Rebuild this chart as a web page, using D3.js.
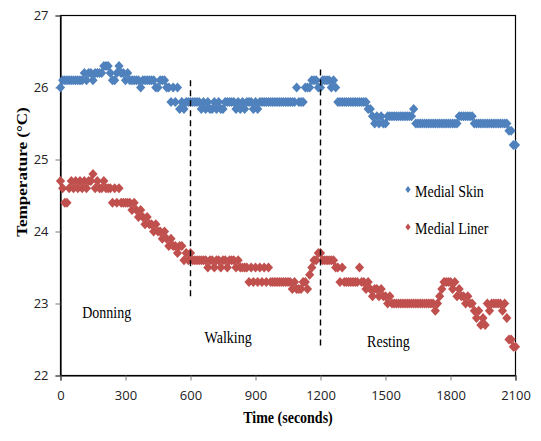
<!DOCTYPE html>
<html>
<head>
<meta charset="utf-8">
<script src="https://cdn.jsdelivr.net/npm/d3@7"></script>
<style>
  html, body { margin: 0; padding: 0; background: #fff; }
  svg { display: block; }
</style>
</head>
<body>
<svg id="chart" width="541" height="441"></svg>
<script>
// Sampling interval of the logger (seconds)
const sampleStep = 10;
const endTime = 2100;

// Medial skin temperature (°C), one reading every 10 s from 0 to 2100 s
const medialSkin = [
  26.0, 26.1, 26.1, 26.1, 26.1, 26.1, 26.1, 26.1, 26.1, 26.1, 26.1,
  26.2, 26.1, 26.2, 26.2, 26.1, 26.2, 26.2, 26.2, 26.2, 26.3,
  26.3, 26.3, 26.2, 26.1, 26.1, 26.2, 26.3, 26.2, 26.2, 26.1,
  26.2, 26.1, 26.1, 26.1, 26.1, 26.1, 26.0, 26.1, 26.1, 26.1,
  26.1, 26.1, 26.1, 26.0, 26.0, 26.1, 26.1, 26.1, 26.0, 26.0,
  25.8, 26.0, 25.8, 26.0, 25.7, 25.8, 25.7, 25.8, 25.8, 25.8,
  25.8, 25.8, 25.8, 25.8, 25.7, 25.8, 25.7, 25.8, 25.7, 25.7,
  25.8, 25.7, 25.8, 25.7, 25.7, 25.8, 25.8, 25.8, 25.8, 25.8,
  25.7, 25.8, 25.7, 25.8, 25.7, 25.8, 25.8, 25.8, 25.7, 25.8,
  25.7, 25.8, 25.8, 25.8, 25.8, 25.8, 25.8, 25.8, 25.8, 25.8,
  25.8, 25.8, 25.8, 25.8, 25.8, 25.8, 25.8, 25.8, 26.0, 25.8,
  25.8, 25.8, 26.0, 26.0, 26.0, 26.1, 26.1, 26.1, 26.0, 26.0,
  26.1, 26.1, 26.1, 26.1, 26.0, 26.1, 26.0, 25.8, 25.8, 25.8,
  25.8, 25.8, 25.8, 25.8, 25.8, 25.8, 25.8, 25.8, 25.8, 25.8,
  25.8, 25.7, 25.7, 25.6, 25.5, 25.6, 25.5, 25.6, 25.5, 25.5,
  25.6, 25.6, 25.6, 25.6, 25.6, 25.6, 25.6, 25.6, 25.6, 25.6,
  25.6, 25.6, 25.7, 25.5, 25.5, 25.5, 25.5, 25.5, 25.5, 25.5,
  25.5, 25.5, 25.5, 25.5, 25.5, 25.5, 25.5, 25.5, 25.5, 25.5,
  25.5, 25.5, 25.5, 25.6, 25.6, 25.6, 25.6, 25.6, 25.6, 25.6,
  25.5, 25.5, 25.5, 25.5, 25.5, 25.5, 25.5, 25.5, 25.5, 25.5,
  25.5, 25.5, 25.5, 25.5, 25.5, 25.5, 25.4, 25.4, 25.2, 25.2
];

// Medial liner temperature (°C), same sampling
const medialLiner = [
  24.7, 24.6, 24.4, 24.4, 24.6, 24.7, 24.6, 24.7, 24.6, 24.7, 24.6,
  24.7, 24.6, 24.7, 24.7, 24.8, 24.6, 24.7, 24.6, 24.6, 24.7,
  24.6, 24.6, 24.6, 24.4, 24.6, 24.4, 24.6, 24.4, 24.4, 24.4,
  24.4, 24.4, 24.3, 24.4, 24.3, 24.2, 24.3, 24.2, 24.1, 24.2,
  24.1, 24.1, 24.0, 24.1, 24.0, 24.0, 23.9, 24.0, 23.9, 23.8,
  23.9, 23.8, 23.8, 23.7, 23.8, 23.8, 23.6, 23.7, 23.6, 23.7,
  23.6, 23.6, 23.6, 23.6, 23.6, 23.6, 23.6, 23.5, 23.6, 23.6,
  23.5, 23.6, 23.6, 23.5, 23.6, 23.6, 23.5, 23.6, 23.6, 23.6,
  23.5, 23.6, 23.5, 23.5, 23.5, 23.5, 23.3, 23.5, 23.3, 23.5,
  23.3, 23.5, 23.3, 23.5, 23.3, 23.5, 23.3, 23.3, 23.3, 23.3,
  23.3, 23.3, 23.3, 23.3, 23.3, 23.3, 23.2, 23.3, 23.2, 23.2,
  23.2, 23.3, 23.3, 23.2, 23.4, 23.5, 23.6, 23.6, 23.7, 23.7,
  23.6, 23.6, 23.6, 23.6, 23.6, 23.6, 23.5, 23.5, 23.3, 23.5,
  23.3, 23.3, 23.3, 23.3, 23.3, 23.3, 23.3, 23.5, 23.3, 23.3,
  23.2, 23.3, 23.2, 23.1, 23.2, 23.2, 23.1, 23.2, 23.1, 23.1,
  23.0, 23.1, 23.0, 23.0, 23.0, 23.0, 23.0, 23.0, 23.0, 23.0,
  23.0, 23.0, 23.0, 23.0, 23.0, 23.0, 23.0, 23.0, 23.0, 23.0,
  23.0, 23.0, 22.9, 23.0, 23.1, 23.2, 23.3, 23.3, 23.3, 23.3,
  23.2, 23.3, 23.1, 23.2, 23.1, 23.1, 23.0, 23.1, 23.0, 23.0,
  22.9, 22.8, 22.9, 22.7, 22.8, 22.7, 23.0, 22.9, 23.0, 23.0,
  23.0, 23.0, 23.0, 22.9, 23.0, 22.8, 22.5, 22.5, 22.4, 22.4
];

const seriesNames = ["Medial Skin", "Medial Liner"];
const seriesColors = ["#4F81BD", "#C0504D"];

const xTicks = [0, 300, 600, 900, 1200, 1500, 1800, 2100];
const yTicks = [22, 23, 24, 25, 26, 27];

// Phase boundaries (time, top temp, bottom temp) and phase labels
const phaseBoundaries = [
  { t: 600,  top: 26.1,  bottom: 23.05 },
  { t: 1200, top: 26.25, bottom: 22.38 }
];
const phaseLabels = [
  { name: "Donning", t: 100,  temp: 22.8 },
  { name: "Walking", t: 665,  temp: 22.45 },
  { name: "Resting", t: 1415, temp: 22.4 }
];

const times = d3.range(0, endTime + 1, sampleStep);

const svg = d3.select("#chart");
const x = d3.scaleLinear().domain([0, 2100]).range([60.5, 515.5]);
const y = d3.scaleLinear().domain([22, 27]).range([375.5, 15.5]);

const serif = "'Liberation Serif', 'Times New Roman', serif";
const sans = "'Open Sans', 'Liberation Sans', sans-serif";
const vStretch = 1.22;

// plot frame
svg.append("rect")
  .attr("x", x(0)).attr("y", y(27))
  .attr("width", x(2100) - x(0)).attr("height", y(22) - y(27))
  .attr("fill", "none").attr("stroke", "#000").attr("stroke-width", 1.2);

// axes
const yAxis = svg.append("g")
  .attr("transform", `translate(${x(0)},0)`)
  .call(d3.axisLeft(y).tickValues(yTicks).tickFormat(d3.format("d")).tickSize(5).tickPadding(7));
const xAxis = svg.append("g")
  .attr("transform", `translate(0,${y(22)})`)
  .call(d3.axisBottom(x).tickValues(xTicks).tickFormat(d3.format("d")).tickSize(5).tickPadding(10));
[yAxis, xAxis].forEach(g => {
  g.select(".domain").attr("stroke", "#000").attr("stroke-width", 1.2);
  g.selectAll(".tick line").attr("stroke", "#777");
  g.selectAll(".tick text").attr("fill", "#222").style("font-family", sans).style("font-size", "13px");
});

// diamond marker
function diamond(rx, ry) {
  return `M0,${-ry}L${rx},0L0,${ry}L${-rx},0Z`;
}

[medialSkin, medialLiner].forEach((values, si) => {
  svg.append("g").selectAll("path")
    .data(values)
    .join("path")
    .attr("d", diamond(4.6, 5))
    .attr("transform", (d, i) => `translate(${x(times[i])},${y(d)})`)
    .attr("fill", seriesColors[si]);
});

// phase boundaries
svg.append("g").selectAll("line")
  .data(phaseBoundaries)
  .join("line")
  .attr("x1", d => x(d.t)).attr("x2", d => x(d.t))
  .attr("y1", d => y(d.top)).attr("y2", d => y(d.bottom))
  .attr("stroke", "#000").attr("stroke-width", 1.4)
  .attr("stroke-dasharray", "6,4");

// phase labels
svg.append("g").selectAll("text")
  .data(phaseLabels)
  .join("text")
  .attr("transform", d => `translate(${x(d.t)},${y(d.temp)}) scale(1,${vStretch})`)
  .style("font-family", serif).style("font-size", "14px")
  .attr("fill", "#000")
  .text(d => d.name);

// legend
const legend = svg.append("g").attr("transform", "translate(408,0)");
const legendRows = [189.5, 227];
seriesNames.forEach((name, i) => {
  legend.append("path")
    .attr("d", diamond(2.6, 3.4))
    .attr("transform", `translate(0,${legendRows[i]})`)
    .attr("fill", seriesColors[i]);
  legend.append("text")
    .attr("transform", `translate(7,${legendRows[i] + 7.3}) scale(1,${vStretch})`)
    .style("font-family", serif).style("font-size", "14px")
    .attr("fill", "#000")
    .text(name);
});

// axis titles
svg.append("text")
  .attr("transform", `translate(288,422.5) scale(1,${vStretch})`)
  .attr("text-anchor", "middle")
  .style("font-family", serif).style("font-size", "14px").style("font-weight", "bold")
  .text("Time (seconds)");
svg.append("text")
  .attr("transform", `translate(26.5,172) scale(1,${vStretch}) rotate(-90)`)
  .attr("text-anchor", "middle")
  .style("font-family", serif).style("font-size", "14px").style("font-weight", "bold")
  .text("Temperature (°C)");
</script>
</body>
</html>
